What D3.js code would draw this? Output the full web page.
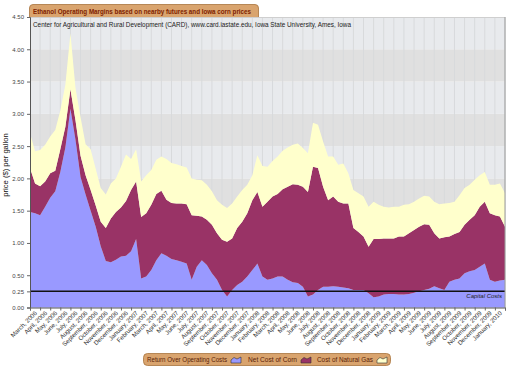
<!DOCTYPE html>
<html>
<head>
<meta charset="utf-8">
<script src="https://cdn.jsdelivr.net/npm/d3@7"></script>
<style>
  body { margin: 0; background: #fff; }
  svg { display: block; font-family: Arial, "Liberation Sans", sans-serif; }
</style>
</head>
<body>
<svg id="chart" width="512" height="367"></svg>
<script>
// half-month samples, March 2006 .. February 2010
var returnOverCosts = [
  1.48,1.46,1.43,1.56,1.70,1.80,2.10,2.48,3.08,2.60,
  2.02,1.75,1.50,1.25,0.95,0.72,0.70,0.74,0.79,0.80,
  0.87,1.06,0.45,0.48,0.58,0.73,0.84,0.80,0.75,0.73,
  0.71,0.68,0.43,0.63,0.73,0.66,0.53,0.43,0.27,0.17,
  0.27,0.35,0.40,0.48,0.58,0.68,0.48,0.43,0.45,0.48,
  0.48,0.43,0.39,0.38,0.32,0.17,0.20,0.27,0.32,0.32,
  0.33,0.32,0.31,0.30,0.27,0.27,0.27,0.22,0.16,0.17,
  0.20,0.21,0.21,0.20,0.20,0.21,0.23,0.25,0.27,0.29,
  0.33,0.30,0.27,0.40,0.43,0.45,0.53,0.56,0.58,0.63,
  0.68,0.43,0.40,0.42,0.43
];
var netCornCost = [
  0.68,0.46,0.45,0.39,0.38,0.32,0.35,0.32,0.30,0.30,
  0.33,0.30,0.32,0.33,0.38,0.51,0.68,0.74,0.76,0.85,
  0.95,0.89,0.95,0.98,1.01,1.03,0.97,0.87,0.87,0.88,
  0.90,0.92,1.00,0.79,0.68,0.70,0.75,0.72,0.78,0.85,
  0.80,0.88,0.93,0.98,1.08,1.11,1.08,1.21,1.27,1.28,
  1.35,1.44,1.52,1.52,1.55,1.62,1.98,1.89,1.55,1.34,
  1.39,1.32,1.30,1.31,0.96,0.90,0.83,0.72,0.90,0.89,
  0.87,0.86,0.86,0.90,0.90,0.94,0.97,1.00,1.02,0.99,
  0.82,0.77,0.82,0.70,0.71,0.72,0.75,0.80,0.85,0.93,
  0.96,1.03,1.03,0.99,0.82
];
var naturalGasCost = [
  0.54,0.50,0.56,0.57,0.57,0.63,0.60,0.65,0.87,0.50,
  0.60,0.48,0.63,0.57,0.52,0.52,0.54,0.52,0.63,0.72,
  0.48,0.50,0.55,0.59,0.54,0.53,0.53,0.63,0.62,0.61,
  0.58,0.57,0.57,0.56,0.56,0.54,0.52,0.51,0.54,0.52,
  0.54,0.49,0.49,0.44,0.39,0.57,0.63,0.54,0.55,0.58,
  0.60,0.61,0.61,0.64,0.60,0.60,0.68,0.67,0.70,0.68,
  0.62,0.57,0.62,0.47,0.59,0.60,0.62,0.62,0.58,0.53,
  0.49,0.48,0.49,0.46,0.49,0.45,0.44,0.44,0.44,0.44,
  0.49,0.53,0.52,0.52,0.50,0.57,0.57,0.54,0.55,0.49,
  0.46,0.44,0.47,0.51,0.52
];
var capitalCosts = 0.25;
var yTicks = [0, 0.25, 0.5, 1, 1.5, 2, 2.5, 3, 3.5, 4, 4.5];
var monthLabels = d3.timeMonth.range(new Date(2006, 2, 1), new Date(2010, 1, 1))
  .map(d3.timeFormat("%B, %Y"));
var seriesNames = ["Return Over Operating Costs", "Net Cost of Corn", "Cost of Natural Gas"];
var seriesColors = ["#9999ff", "#993366", "#ffffcc"];

var svg = d3.select("#chart");
var plotLeft = 30, plotRight = 505, plotTop = 17, plotBottom = 307.5;

var x = d3.scaleLinear().domain([0, monthLabels.length]).range([plotLeft, plotRight]);
var y = d3.scaleLinear().domain([0, 4.5]).range([plotBottom, plotTop]);

// table for the stack
var table = returnOverCosts.map(function(v, i) {
  return { t: i * 0.5, ret: v, corn: netCornCost[i], gas: naturalGasCost[i] };
});
var stack = d3.stack().keys(["ret", "corn", "gas"]);
var layers = stack(table);

/* ------- background bands and grid -------*/
var bands = d3.range(0, 4.5, 0.5);
svg.append("g").selectAll("rect")
  .data(bands)
  .enter().append("rect")
  .attr("x", plotLeft)
  .attr("width", plotRight - plotLeft)
  .attr("y", function(d) { return y(d + 0.5); })
  .attr("height", function(d) { return y(d) - y(d + 0.5); })
  .attr("fill", function(d, i) { return i % 2 === 0 ? "#e8eaed" : "#e0e0e0"; });

svg.append("g").selectAll("line")
  .data(d3.range(1, monthLabels.length + 1))
  .enter().append("line")
  .attr("x1", function(d) { return x(d); })
  .attr("x2", function(d) { return x(d); })
  .attr("y1", plotTop).attr("y2", plotBottom)
  .attr("stroke", "#d8dadc")
  .attr("stroke-width", 1);

/* ------- areas -------*/
var area = d3.area()
  .x(function(d) { return x(d.data.t); })
  .y0(function(d) { return y(d[0]); })
  .y1(function(d) { return y(d[1]); });

svg.append("g").selectAll("path")
  .data(layers)
  .enter().append("path")
  .attr("d", area)
  .attr("fill", function(d, i) { return seriesColors[i]; });

/* ------- capital costs line -------*/
svg.append("line")
  .attr("x1", plotLeft).attr("x2", plotRight)
  .attr("y1", y(capitalCosts)).attr("y2", y(capitalCosts))
  .attr("stroke", "#111").attr("stroke-width", 1.5);
svg.append("text")
  .attr("x", plotRight - 3).attr("y", y(capitalCosts) + 7)
  .attr("text-anchor", "end")
  .style("font-size", "6px").style("font-style", "italic")
  .attr("fill", "#222")
  .text("Capital Costs");

/* ------- frame -------*/
svg.append("line").attr("x1", plotLeft).attr("x2", plotRight).attr("y1", plotTop + 0.5).attr("y2", plotTop + 0.5)
  .attr("stroke", "#cfcfcf");
svg.append("line").attr("x1", plotRight).attr("x2", plotRight).attr("y1", plotTop).attr("y2", plotBottom)
  .attr("stroke", "#9a9a9a");

/* ------- axes -------*/
var yAxis = svg.append("g")
  .attr("transform", "translate(" + plotLeft + ",0)")
  .call(d3.axisLeft(y).tickValues(yTicks).tickFormat(d3.format(".2f")).tickSize(3).tickPadding(3));
yAxis.select(".domain").attr("stroke", "#555");
yAxis.selectAll(".tick line").attr("stroke", "#666");
yAxis.selectAll("text").style("font-size", "6px").attr("fill", "#444").attr("font-family", null);

var xAxis = svg.append("g")
  .attr("transform", "translate(0," + plotBottom + ")")
  .call(d3.axisBottom(x).tickValues(d3.range(0, monthLabels.length + 1)).tickSize(3).tickFormat(""));
xAxis.select(".domain").attr("stroke", "#555");
xAxis.selectAll(".tick line").attr("stroke", "#666");

svg.append("g").selectAll("text")
  .data(monthLabels)
  .enter().append("text")
  .attr("transform", function(d, i) {
    return "translate(" + (x(i) + 7.5) + "," + (plotBottom + 6) + ") rotate(-45)";
  })
  .attr("text-anchor", "end")
  .style("font-size", "6.2px")
  .attr("fill", "#333")
  .text(function(d) { return d; });

svg.append("text")
  .attr("transform", "translate(8,165) rotate(-90)")
  .attr("text-anchor", "middle")
  .style("font-size", "7.6px")
  .attr("fill", "#111")
  .text("price ($) per gallon");

/* ------- title and subtitle -------*/
svg.append("path")
  .attr("d", "M29.5,17 L29.5,8 Q29.5,4.5 33,4.5 L255,4.5 Q258.5,4.5 258.5,8 L258.5,17")
  .attr("fill", "#d9a46e").attr("stroke", "#a8743e").attr("stroke-width", 0.8);
svg.append("text")
  .attr("x", 33).attr("y", 13.8)
  .attr("textLength", 218).attr("lengthAdjust", "spacingAndGlyphs")
  .style("font-size", "6.3px").style("font-weight", "bold")
  .attr("fill", "#7f2200")
  .text("Ethanol Operating Margins based on nearby futures and Iowa corn prices");

svg.append("text")
  .attr("x", 33).attr("y", 27)
  .attr("textLength", 318).attr("lengthAdjust", "spacingAndGlyphs")
  .style("font-size", "6.6px")
  .attr("fill", "#222")
  .text("Center for Agricultural and Rural Development (CARD), www.card.iastate.edu, Iowa State University, Ames, Iowa");

/* ------- legend -------*/
var legend = svg.append("g");
legend.append("rect")
  .attr("x", 143.5).attr("y", 353.5).attr("width", 247).attr("height", 12).attr("rx", 4)
  .attr("fill", "#d9a46e").attr("stroke", "#a8743e").attr("stroke-width", 0.8);

var legendItems = [
  { text: 0, x: 147, len: 80, icon: 231 },
  { text: 1, x: 248, len: 49, icon: 301 },
  { text: 2, x: 317, len: 56, icon: 377 }
];
legendItems.forEach(function(item) {
  legend.append("text")
    .attr("x", item.x).attr("y", 362.2)
    .attr("textLength", item.len).attr("lengthAdjust", "spacingAndGlyphs")
    .style("font-size", "6.4px")
    .attr("fill", "#5a1e08")
    .text(seriesNames[item.text]);
  legend.append("path")
    .attr("transform", "translate(" + item.icon + ",356)")
    .attr("d", "M0,7 L0,4 L3,1.5 L6,3 L10,1 L10,7 Z")
    .attr("fill", seriesColors[item.text])
    .attr("stroke", "#333").attr("stroke-width", 0.6);
});
</script>
</body>
</html>
